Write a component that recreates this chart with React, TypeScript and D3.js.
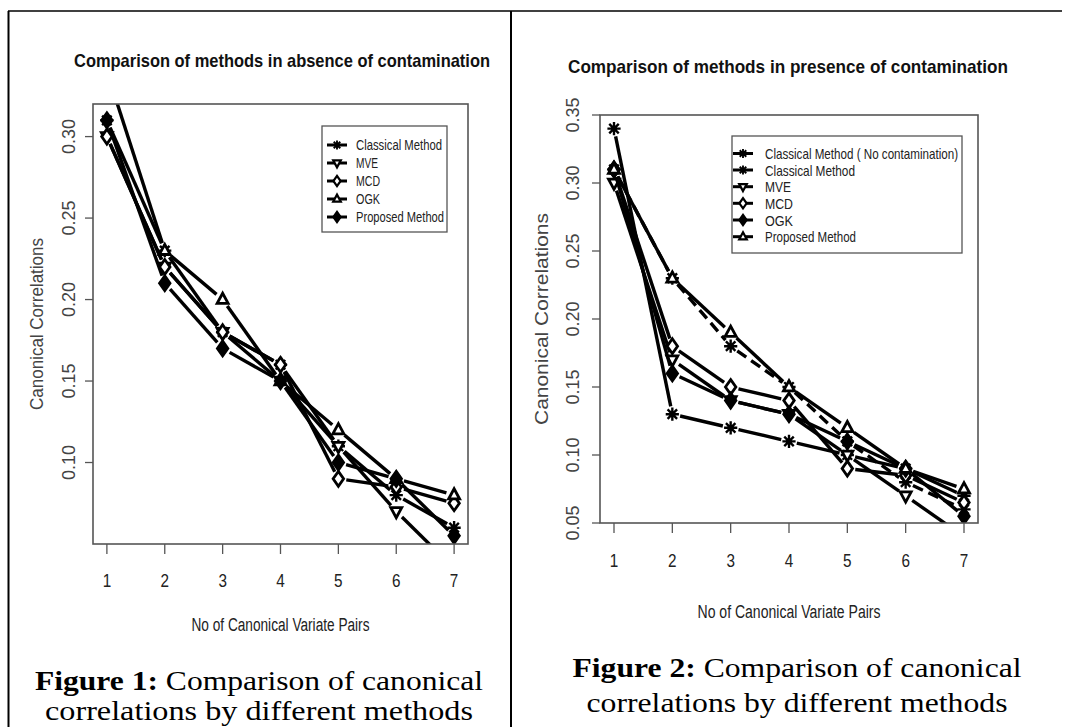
import React from "react";
import * as d3 from "d3";

// ---------- data ----------
const pairs = [1, 2, 3, 4, 5, 6, 7];

// Figure 1 (absence of contamination)
const f1Classical = [0.31, 0.23, 0.18, 0.16, 0.11, 0.08, 0.06];
const f1MVE = [0.30, 0.22, 0.18, 0.15, 0.11, 0.07, 0.035];
const f1MCD = [0.30, 0.22, 0.18, 0.16, 0.09, 0.085, 0.075];
const f1OGK = [0.34, 0.23, 0.20, 0.15, 0.12, 0.09, 0.08];
const f1Proposed = [0.31, 0.21, 0.17, 0.15, 0.10, 0.09, 0.055];
const f1Names = ["Classical Method", "MVE", "MCD", "OGK", "Proposed Method"];
const f1YTicks = [0.10, 0.15, 0.20, 0.25, 0.30];

// Figure 2 (presence of contamination)
const f2ClassicalNC = [0.31, 0.23, 0.18, 0.15, 0.11, 0.08, 0.06];
const f2Classical = [0.34, 0.13, 0.12, 0.11, 0.10, 0.09, 0.07];
const f2MVE = [0.30, 0.17, 0.14, 0.13, 0.10, 0.07, 0.04];
const f2MCD = [0.31, 0.18, 0.15, 0.14, 0.09, 0.085, 0.065];
const f2OGK = [0.31, 0.16, 0.14, 0.13, 0.11, 0.09, 0.055];
const f2Proposed = [0.31, 0.23, 0.19, 0.15, 0.12, 0.09, 0.075];
const f2Names = [
  "Classical Method ( No contamination)",
  "Classical Method",
  "MVE",
  "MCD",
  "OGK",
  "Proposed Method",
];
const f2YTicks = [0.05, 0.10, 0.15, 0.20, 0.25, 0.30, 0.35];

const titles = [
  "Comparison of methods in absence of contamination",
  "Comparison of methods in presence of contamination",
];
const xTitle = "No of Canonical Variate Pairs";
const yTitle = "Canonical Correlations";
const captionLine2 = "correlations by different methods";

// ---------- helpers ----------
const NARROW = "'Liberation Sans Narrow', 'Arial Narrow', 'Liberation Sans', Arial, sans-serif";
const SANS = "'Liberation Sans', Arial, sans-serif";
const SERIF = "'Liberation Serif', 'Times New Roman', Times, serif";

type MarkerType = "asterisk" | "tri" | "invtri" | "diamond" | "fdiamond";

function Marker({ type, x, y, s, sw = 2.6 }: { type: MarkerType; x: number; y: number; s: number; sw?: number }) {
  if (type === "asterisk") {
    const a = s * 1.2;
    const d = a * 0.72;
    return (
      <path
        d={`M${x - a},${y}H${x + a}M${x},${y - a}V${y + a}M${x - d},${y - d}L${x + d},${y + d}M${x - d},${y + d}L${x + d},${y - d}`}
        stroke="#000"
        strokeWidth={sw * 0.85}
        fill="none"
      />
    );
  }
  if (type === "tri") {
    const pts = [[x, y - s * 1.15], [x + s, y + s * 0.7], [x - s, y + s * 0.7]];
    return <polygon points={pts.map((p) => p.join(",")).join(" ")} fill="#fff" stroke="#000" strokeWidth={sw} />;
  }
  if (type === "invtri") {
    const pts = [[x, y + s * 1.15], [x + s, y - s * 0.7], [x - s, y - s * 0.7]];
    return <polygon points={pts.map((p) => p.join(",")).join(" ")} fill="#fff" stroke="#000" strokeWidth={sw} />;
  }
  const pts = [[x, y - s * 1.35], [x + s * 0.95, y], [x, y + s * 1.35], [x - s * 0.95, y]];
  return (
    <polygon
      points={pts.map((p) => p.join(",")).join(" ")}
      fill={type === "fdiamond" ? "#000" : "#fff"}
      stroke="#000"
      strokeWidth={sw}
    />
  );
}

function gapped(pts: [number, number][], gap: number) {
  const segs: [number, number][][] = [];
  for (let i = 0; i < pts.length - 1; i++) {
    const [x1, y1] = pts[i];
    const [x2, y2] = pts[i + 1];
    const dx = x2 - x1, dy = y2 - y1;
    const L = Math.hypot(dx, dy);
    if (L <= 2 * gap) continue;
    const ux = dx / L, uy = dy / L;
    segs.push([
      [x1 + ux * gap, y1 + uy * gap],
      [x2 - ux * gap, y2 - uy * gap],
    ]);
  }
  return segs;
}

type Series = { name: string; values: number[]; marker: MarkerType; dash?: string };

type PanelCfg = {
  id: string;
  box: { x0: number; x1: number; y0: number; y1: number };
  yDomain: [number, number];
  yTicks: number[];
  series: Series[];
  title: string;
  titleX: number;
  titleY: number;
  titleLen: number;
  yTickLabelX: number;
  yTitleX: number;
  yTitleLen: number;
  xTickLabelY: number;
  xTitleY: number;
  xTitleLen: number;
  legend: { x0: number; y0: number; x1: number; y1: number; rowY: number[]; symX: number; textX: number; fontSize: number; textLens: number[] };
  caption: { num: string; cx: number; y1: number; y2: number; len1: number; len2: number };
};

function Panel({ cfg }: { cfg: PanelCfg }) {
  const { box } = cfg;
  const x = d3.scaleLinear().domain([0.76, 7.24]).range([box.x0, box.x1]);
  const y = d3.scaleLinear().domain(cfg.yDomain).range([box.y1, box.y0]);
  const line = d3.line<[number, number]>();
  const fmt = d3.format(".2f");
  const clipId = `clip-${cfg.id}`;
  const yMid = (box.y0 + box.y1) / 2;
  const xMid = (box.x0 + box.x1) / 2;
  const L = cfg.legend;
  return (
    <g>
      <defs>
        <clipPath id={clipId}>
          <rect x={box.x0} y={box.y0} width={box.x1 - box.x0} height={box.y1 - box.y0} />
        </clipPath>
      </defs>
      {/* title */}
      <text
        x={cfg.titleX}
        y={cfg.titleY}
        textAnchor="middle"
        fontFamily={NARROW}
        fontWeight="bold"
        fontSize={19}
        fill="#111"
        textLength={cfg.titleLen}
        lengthAdjust="spacingAndGlyphs"
      >
        {cfg.title}
      </text>
      {/* data */}
      <g clipPath={`url(#${clipId})`}>
        {cfg.series.map((s, si) => {
          const pts = s.values.map((v, i) => [x(pairs[i]), y(v)] as [number, number]);
          return (
            <g key={si}>
              {gapped(pts, 8).map((seg, k) => (
                <path
                  key={k}
                  d={line(seg) || ""}
                  stroke="#000"
                  strokeWidth={3.4}
                  fill="none"
                  strokeDasharray={s.dash}
                />
              ))}
              {pts.map((p, k) => (
                <Marker key={k} type={s.marker} x={p[0]} y={p[1]} s={5.5} sw={2.8} />
              ))}
            </g>
          );
        })}
      </g>
      {/* box */}
      <rect
        x={box.x0}
        y={box.y0}
        width={box.x1 - box.x0}
        height={box.y1 - box.y0}
        fill="none"
        stroke="#555"
        strokeWidth={1.6}
      />
      {/* y axis */}
      {cfg.yTicks.map((t, i) => (
        <g key={i}>
          <line x1={box.x0 - 8} x2={box.x0} y1={y(t)} y2={y(t)} stroke="#555" strokeWidth={1.3} />
          <text
            transform={`translate(${cfg.yTickLabelX},${y(t)}) rotate(-90)`}
            textAnchor="middle"
            dominantBaseline="central"
            fontFamily={SANS}
            fontSize={18}
            fill="#444"
          >
            {fmt(t)}
          </text>
        </g>
      ))}
      <text
        transform={`translate(${cfg.yTitleX},${yMid}) rotate(-90)`}
        textAnchor="middle"
        dominantBaseline="central"
        fontFamily={SANS}
        fontSize={18}
        fill="#444"
        textLength={cfg.yTitleLen}
        lengthAdjust="spacingAndGlyphs"
      >
        {yTitle}
      </text>
      {/* x axis */}
      {pairs.map((p, i) => (
        <g key={i}>
          <line x1={x(p)} x2={x(p)} y1={box.y1} y2={box.y1 + 10} stroke="#555" strokeWidth={1.3} />
          <text
            x={x(p)}
            y={cfg.xTickLabelY}
            textAnchor="middle"
            dominantBaseline="central"
            fontFamily={NARROW}
            fontSize={19}
            fill="#222"
            textLength={8.5}
            lengthAdjust="spacingAndGlyphs"
          >
            {p}
          </text>
        </g>
      ))}
      <text
        x={xMid}
        y={cfg.xTitleY}
        textAnchor="middle"
        dominantBaseline="central"
        fontFamily={NARROW}
        fontSize={18}
        fill="#222"
        textLength={cfg.xTitleLen}
        lengthAdjust="spacingAndGlyphs"
      >
        {xTitle}
      </text>
      {/* legend */}
      <rect x={L.x0} y={L.y0} width={L.x1 - L.x0} height={L.y1 - L.y0} fill="#fff" stroke="#555" strokeWidth={1.3} />
      {cfg.series.map((s, i) => (
        <g key={i}>
          <line x1={L.symX - 10} x2={L.symX + 10} y1={L.rowY[i]} y2={L.rowY[i]} stroke="#000" strokeWidth={3} />
          <Marker type={s.marker} x={L.symX} y={L.rowY[i]} s={3.8} sw={2.2} />
          <text
            x={L.textX}
            y={L.rowY[i]}
            dominantBaseline="central"
            fontFamily={NARROW}
            fontSize={L.fontSize}
            fill="#222"
            textLength={L.textLens[i]}
            lengthAdjust="spacingAndGlyphs"
          >
            {s.name}
          </text>
        </g>
      ))}
      {/* caption */}
      <text
        x={cfg.caption.cx}
        y={cfg.caption.y1}
        textAnchor="middle"
        fontFamily={SERIF}
        fontSize={28}
        fill="#000"
        textLength={cfg.caption.len1}
        lengthAdjust="spacingAndGlyphs"
      >
        <tspan fontWeight="bold">{cfg.caption.num}</tspan>
        <tspan> Comparison of canonical</tspan>
      </text>
      <text
        x={cfg.caption.cx}
        y={cfg.caption.y2}
        textAnchor="middle"
        fontFamily={SERIF}
        fontSize={28}
        fill="#000"
        textLength={cfg.caption.len2}
        lengthAdjust="spacingAndGlyphs"
      >
        {captionLine2}
      </text>
    </g>
  );
}

const panel1: PanelCfg = {
  id: "p1",
  box: { x0: 93, x1: 468, y0: 104, y1: 544 },
  yDomain: [0.05, 0.32],
  yTicks: f1YTicks,
  series: [
    { name: f1Names[0], values: f1Classical, marker: "asterisk" },
    { name: f1Names[1], values: f1MVE, marker: "invtri" },
    { name: f1Names[2], values: f1MCD, marker: "diamond" },
    { name: f1Names[3], values: f1OGK, marker: "tri" },
    { name: f1Names[4], values: f1Proposed, marker: "fdiamond" },
  ],
  title: titles[0],
  titleX: 282,
  titleY: 67,
  titleLen: 416,
  yTickLabelX: 69,
  yTitleX: 37,
  yTitleLen: 172,
  xTickLabelY: 580,
  xTitleY: 625,
  xTitleLen: 178,
  legend: {
    x0: 322, y0: 126, x1: 447, y1: 232,
    rowY: [145, 163, 181, 199, 217],
    symX: 337, textX: 356, fontSize: 14,
    textLens: [86, 22, 24, 24, 88],
  },
  caption: { num: "Figure 1:", cx: 259, y1: 690, y2: 720, len1: 448, len2: 428 },
};

const panel2: PanelCfg = {
  id: "p2",
  box: { x0: 600, x1: 978, y0: 115, y1: 523 },
  yDomain: [0.05, 0.35],
  yTicks: f2YTicks,
  series: [
    { name: f2Names[0], values: f2ClassicalNC, marker: "asterisk", dash: "11,6" },
    { name: f2Names[1], values: f2Classical, marker: "asterisk" },
    { name: f2Names[2], values: f2MVE, marker: "invtri" },
    { name: f2Names[3], values: f2MCD, marker: "diamond" },
    { name: f2Names[4], values: f2OGK, marker: "fdiamond" },
    { name: f2Names[5], values: f2Proposed, marker: "tri" },
  ],
  title: titles[1],
  titleX: 788,
  titleY: 73,
  titleLen: 440,
  yTickLabelX: 573,
  yTitleX: 542,
  yTitleLen: 212,
  xTickLabelY: 560,
  xTitleY: 612,
  xTitleLen: 183,
  legend: {
    x0: 732, y0: 136, x1: 962, y1: 253,
    rowY: [153.5, 170, 186.7, 203.3, 220, 236.7],
    symX: 743, textX: 765, fontSize: 15,
    textLens: [193, 90, 26, 28, 28, 91],
  },
  caption: { num: "Figure 2:", cx: 797, y1: 677, y2: 712, len1: 449, len2: 421 },
};

export default function App() {
  return (
    <svg
      width={1068}
      height={727}
      viewBox="0 0 1068 727"
      style={{ position: "absolute", left: 0, top: 0, background: "#fff" }}
    >
      <rect x={0} y={0} width={1068} height={727} fill="#fff" />
      {/* table borders */}
      <line x1={8} x2={1062} y1={11} y2={11} stroke="#000" strokeWidth={1.5} />
      <line x1={8.5} x2={8.5} y1={11} y2={727} stroke="#000" strokeWidth={2} />
      <line x1={511} x2={511} y1={11} y2={727} stroke="#000" strokeWidth={2} />
      <Panel cfg={panel1} />
      <Panel cfg={panel2} />
    </svg>
  );
}
